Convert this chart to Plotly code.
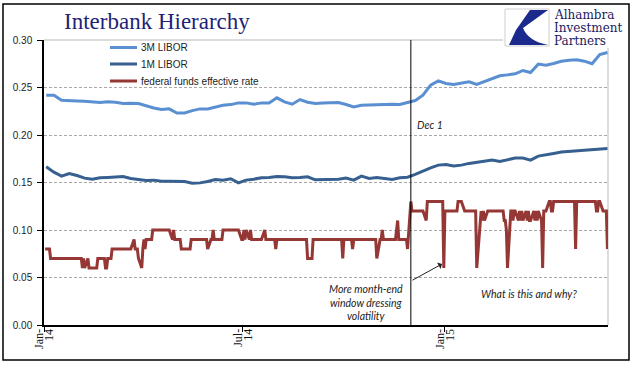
import plotly.graph_objects as go
import pandas as pd

# ---------------- data ----------------
# Weekly LIBOR readings (Fridays from 2014-01-03)
libor_start = "2014-01-03"
libor_3m = [0.2419, 0.2419, 0.2366, 0.2366, 0.2359, 0.2356, 0.2349, 0.2342, 0.2349, 0.2345,
            0.2331, 0.2335, 0.2331, 0.2306, 0.2285, 0.2268, 0.2275, 0.2232, 0.2232, 0.2257,
            0.2275, 0.2275, 0.2292, 0.2313, 0.2320, 0.2338, 0.2338, 0.2324, 0.2338, 0.2338,
            0.2391, 0.2349, 0.2324, 0.2373, 0.2345, 0.2331, 0.2338, 0.2339, 0.2342, 0.2321,
            0.2296, 0.2314, 0.2314, 0.2314, 0.2321, 0.2325, 0.2321, 0.2342, 0.2363, 0.2419,
            0.2525, 0.2570, 0.2542, 0.2532, 0.2549, 0.2560, 0.2532, 0.2560, 0.2591, 0.2623,
            0.2633, 0.2644, 0.2679, 0.2658, 0.2746, 0.2735, 0.2753, 0.2777, 0.2788, 0.2791,
            0.2777, 0.2750, 0.2847, 0.2868]
libor_1m = [0.1665, 0.1609, 0.1567, 0.1595, 0.1574, 0.1546, 0.1535, 0.1549, 0.1553, 0.1560,
            0.1563, 0.1542, 0.1528, 0.1521, 0.1525, 0.1514, 0.1514, 0.1511, 0.1511, 0.1493,
            0.1496, 0.1511, 0.1532, 0.1525, 0.1539, 0.1496, 0.1525, 0.1535, 0.1549, 0.1553,
            0.1563, 0.1560, 0.1549, 0.1553, 0.1560, 0.1528, 0.1528, 0.1528, 0.1535, 0.1546,
            0.1525, 0.1567, 0.1542, 0.1553, 0.1542, 0.1532, 0.1549, 0.1556, 0.1585, 0.1623,
            0.1655, 0.1683, 0.1690, 0.1673, 0.1683, 0.1701, 0.1715, 0.1725, 0.1736, 0.1722,
            0.1743, 0.1757, 0.1757, 0.1736, 0.1778, 0.1789, 0.1806, 0.1820, 0.1827, 0.1835,
            0.1835, 0.1842, 0.1849, 0.1859]

# Daily federal funds effective rate, one list per month (business days)
ffr_2014_01 = [0.08, 0.08, 0.08, 0.07, 0.07, 0.07, 0.07, 0.07, 0.07, 0.07, 0.07, 0.07, 0.07,
               0.07, 0.07, 0.07, 0.07, 0.07, 0.07, 0.07, 0.07, 0.07]
ffr_2014_02 = [0.07, 0.07, 0.06, 0.07, 0.06, 0.07, 0.06, 0.06, 0.06, 0.06, 0.06, 0.06, 0.07,
               0.07, 0.07, 0.07, 0.07, 0.06, 0.06, 0.07]
ffr_2014_03 = [0.07, 0.08, 0.08, 0.08, 0.08, 0.08, 0.08, 0.08, 0.08, 0.08, 0.08, 0.08, 0.08,
               0.08, 0.08, 0.09, 0.08, 0.08, 0.08, 0.07, 0.06]
ffr_2014_04 = [0.08, 0.09, 0.08, 0.09, 0.09, 0.09, 0.09, 0.10, 0.10, 0.10, 0.10, 0.10, 0.10,
               0.10, 0.10, 0.10, 0.10, 0.10, 0.10, 0.09, 0.10, 0.09]
ffr_2014_05 = [0.09, 0.09, 0.09, 0.08, 0.08, 0.08, 0.08, 0.08, 0.08, 0.08, 0.09, 0.09, 0.09,
               0.09, 0.09, 0.09, 0.09, 0.09, 0.09, 0.09, 0.09, 0.08]
ffr_2014_06 = [0.09, 0.09, 0.10, 0.09, 0.09, 0.09, 0.09, 0.09, 0.09, 0.10, 0.10, 0.10, 0.10,
               0.10, 0.10, 0.10, 0.10, 0.10, 0.10, 0.10, 0.09]
ffr_2014_07 = [0.09, 0.10, 0.09, 0.10, 0.09, 0.10, 0.09, 0.09, 0.09, 0.09, 0.09, 0.09, 0.09,
               0.09, 0.10, 0.09, 0.09, 0.09, 0.09, 0.09, 0.09, 0.09, 0.08]
ffr_2014_08 = [0.09, 0.09, 0.09, 0.09, 0.09, 0.09, 0.09, 0.09, 0.09, 0.09, 0.09, 0.09, 0.09,
               0.09, 0.09, 0.09, 0.09, 0.09, 0.09, 0.09, 0.07]
ffr_2014_09 = [0.07, 0.07, 0.09, 0.09, 0.09, 0.09, 0.09, 0.09, 0.09, 0.09, 0.09, 0.09, 0.09,
               0.09, 0.09, 0.09, 0.09, 0.09, 0.09, 0.09, 0.09, 0.07]
ffr_2014_10 = [0.09, 0.09, 0.09, 0.09, 0.09, 0.09, 0.08, 0.09, 0.09, 0.09, 0.09, 0.09, 0.09,
               0.09, 0.09, 0.09, 0.09, 0.09, 0.09, 0.09, 0.09, 0.09, 0.07]
ffr_2014_11 = [0.09, 0.09, 0.10, 0.09, 0.09, 0.09, 0.09, 0.09, 0.09, 0.09, 0.09, 0.10, 0.11,
               0.09, 0.09, 0.09, 0.09, 0.09, 0.09, 0.08]
ffr_2014_12 = [0.13, 0.12, 0.12, 0.12, 0.12, 0.12, 0.12, 0.12, 0.12, 0.12, 0.11, 0.13, 0.13,
               0.13, 0.13, 0.13, 0.13, 0.13, 0.13, 0.13, 0.13, 0.13, 0.06]
ffr_2015_01 = [0.12, 0.12, 0.12, 0.12, 0.12, 0.12, 0.12, 0.12, 0.13, 0.13, 0.13, 0.13, 0.12,
               0.12, 0.12, 0.12, 0.12, 0.12, 0.12, 0.12, 0.12, 0.06]
ffr_2015_02 = [0.10, 0.12, 0.11, 0.12, 0.11, 0.12, 0.12, 0.12, 0.12, 0.12, 0.12, 0.12, 0.12,
               0.12, 0.12, 0.12, 0.11, 0.11, 0.10, 0.06]
ffr_2015_03 = [0.12, 0.12, 0.11, 0.12, 0.12, 0.11, 0.12, 0.11, 0.12, 0.11, 0.12, 0.11, 0.12,
               0.11, 0.11, 0.12, 0.11, 0.12, 0.11, 0.12, 0.11, 0.06]
ffr_2015_04 = [0.12, 0.12, 0.12, 0.13, 0.13, 0.12, 0.12, 0.13, 0.13, 0.13, 0.13, 0.13, 0.13,
               0.13, 0.13, 0.13, 0.13, 0.13, 0.13, 0.13, 0.13, 0.08]
ffr_2015_05 = [0.13, 0.13, 0.13, 0.13, 0.13, 0.13, 0.13, 0.13, 0.13, 0.13, 0.13, 0.13, 0.12,
               0.12, 0.13, 0.13, 0.12, 0.12, 0.12, 0.12, 0.08]

ffr_months = [
    ("2014-01-02", "2014-01-31", ffr_2014_01), ("2014-02-01", "2014-02-28", ffr_2014_02),
    ("2014-03-01", "2014-03-31", ffr_2014_03), ("2014-04-01", "2014-04-30", ffr_2014_04),
    ("2014-05-01", "2014-05-31", ffr_2014_05), ("2014-06-01", "2014-06-30", ffr_2014_06),
    ("2014-07-01", "2014-07-31", ffr_2014_07), ("2014-08-01", "2014-08-31", ffr_2014_08),
    ("2014-09-01", "2014-09-30", ffr_2014_09), ("2014-10-01", "2014-10-31", ffr_2014_10),
    ("2014-11-01", "2014-11-30", ffr_2014_11), ("2014-12-01", "2014-12-31", ffr_2014_12),
    ("2015-01-01", "2015-01-31", ffr_2015_01), ("2015-02-01", "2015-02-28", ffr_2015_02),
    ("2015-03-01", "2015-03-31", ffr_2015_03), ("2015-04-01", "2015-04-30", ffr_2015_04),
    ("2015-05-01", "2015-05-31", ffr_2015_05),
]

series_names = ["3M LIBOR", "1M LIBOR", "federal funds effective rate"]
series_colors = ["#5a8fd2", "#36608f", "#953735"]
tick_vals = ["2014-01-01", "2014-07-01", "2015-01-01"]
tick_month = ["Jan-", "Jul-", "Jan-"]
tick_year = ["14", "14", "15"]
y_ticks = [0.00, 0.05, 0.10, 0.15, 0.20, 0.25, 0.30]
marker_date = "2014-12-01"

# ---------------- build series ----------------
libor_dates = pd.date_range(libor_start, periods=len(libor_3m), freq="7D")
ffr_dates, ffr_vals = [], []
for start, end, vals in ffr_months:
    for d, v in zip(pd.bdate_range(start, end), vals):
        ffr_dates.append(d)
        ffr_vals.append(v)

# ---------------- layout helpers ----------------
W, H = 641, 375
ML, MR, MT, MB = 44, 33, 40, 50
PW, PH = W - ML - MR, H - MT - MB


def px(x):
    return (x - ML) / PW


def py(y):
    return (H - MB - y) / PH


fig = go.Figure()
for xs, ys, nm, col in [(libor_dates, libor_3m, series_names[0], series_colors[0]),
                        (libor_dates, libor_1m, series_names[1], series_colors[1]),
                        (ffr_dates, ffr_vals, series_names[2], series_colors[2])]:
    fig.add_trace(go.Scatter(x=xs, y=ys, name=nm, mode="lines", showlegend=False,
                             line=dict(color=col, width=3)))

fig.update_layout(
    width=W, height=H,
    margin=dict(l=ML, r=MR, t=MT, b=MB, pad=0),
    paper_bgcolor="white", plot_bgcolor="white",
    showlegend=False,
    xaxis=dict(type="date", range=["2014-01-01", "2015-05-29 12:00"],
               tickvals=tick_vals, showticklabels=False,
               ticks="outside", ticklen=5, tickcolor="#000",
               showgrid=False, zeroline=False, showline=True, linecolor="#000", linewidth=1.5),
    yaxis=dict(range=[0, 0.30], tickvals=y_ticks, tickformat=".2f",
               tickfont=dict(family="Liberation Sans, Arial", size=10, color="#222"),
               ticks="outside", ticklen=5, tickcolor="#000", ticklabelstandoff=3,
               showgrid=True, gridcolor="#a8a8a8", gridwidth=1, griddash="3px,2px",
               zeroline=False, showline=True, linecolor="#000", linewidth=1.5),
)

shapes = [
    # plot-area border (top + right), light gray
    dict(type="line", xref="paper", yref="paper", x0=0, x1=1, y0=1, y1=1,
         line=dict(color="#b8b8b8", width=1), layer="below"),
    dict(type="line", xref="paper", yref="paper", x0=1, x1=1, y0=0, y1=1,
         line=dict(color="#b8b8b8", width=1), layer="below"),
    # Dec 1 marker
    dict(type="line", xref="x", yref="y", x0=marker_date, x1=marker_date, y0=0, y1=0.30,
         line=dict(color="#000", width=1)),
    # logo white background
    dict(type="rect", xref="paper", yref="paper", x0=px(503), x1=px(627), y0=py(48), y1=py(6),
         fillcolor="white", line=dict(width=0)),
    dict(type="rect", xref="paper", yref="paper", x0=px(505), x1=px(549), y0=py(46), y1=py(9),
         fillcolor="white", line=dict(color="#cfcfcf", width=1)),
    # outer chart border
    dict(type="rect", xref="paper", yref="paper", x0=px(3), x1=px(629), y0=py(360), y1=py(4),
         line=dict(color="#000", width=1.5)),
]

# logo mark (swoosh)
path = "M {},{} L {},{} L {},{} Q {},{} {},{} L {},{} L {},{} Z".format(
    px(530), py(10), px(548), py(10), px(523), py(28),
    px(528), py(41), px(548), py(45), px(509), py(45), px(516), py(30))
shapes.append(dict(type="path", xref="paper", yref="paper", path=path,
                   fillcolor="#1b2a8c", line=dict(width=0)))

# legend (drawn manually to match the compact row spacing)
legend_rows = [47.5, 64, 81]
for row_y, col in zip(legend_rows, series_colors):
    shapes.append(dict(type="line", xref="paper", yref="paper", x0=px(110), x1=px(137),
                       y0=py(row_y), y1=py(row_y), line=dict(color=col, width=3)))
fig.update_layout(shapes=shapes)

ann_font = dict(family="Lato, Liberation Sans", size=10.5, color="#222")
logo_font = dict(family="DejaVu Serif", size=12, color="#1a1a60")
annotations = [
    dict(text="Interbank Hierarchy", x=px(157), y=py(21), xref="paper", yref="paper",
         showarrow=False, xanchor="center", yanchor="middle",
         font=dict(family="Liberation Serif, Times New Roman", size=23, color="#1f1f78")),
    dict(text="Alhambra", x=px(552), y=py(15), xref="paper", yref="paper", showarrow=False,
         xanchor="left", yanchor="middle", font=logo_font),
    dict(text="Investment", x=px(552), y=py(28), xref="paper", yref="paper", showarrow=False,
         xanchor="left", yanchor="middle", font=logo_font),
    dict(text="Partners", x=px(552), y=py(41), xref="paper", yref="paper", showarrow=False,
         xanchor="left", yanchor="middle", font=logo_font),
    dict(text="<i>Dec 1</i>", x=px(415), y=py(125), xref="paper", yref="paper",
         showarrow=False, xanchor="left", yanchor="middle", font=ann_font),
    dict(text="<i>More month-end<br>window dressing<br>volatility</i>", x=px(366), y=py(302),
         xref="paper", yref="paper", showarrow=False, xanchor="center", yanchor="middle",
         align="center", font=ann_font),
    dict(text="<i>What is this and why?</i>", x=px(529), y=py(294), xref="paper", yref="paper",
         showarrow=False, xanchor="center", yanchor="middle", font=ann_font),
    dict(text="", x=px(442), y=py(264), xref="paper", yref="paper", showarrow=True,
         ax=-31, ay=17, arrowhead=1, arrowsize=1.2, arrowwidth=1, arrowcolor="#222"),
]
for row_y, nm in zip(legend_rows, series_names):
    annotations.append(dict(text=nm, x=px(139), y=py(row_y), xref="paper", yref="paper",
                            showarrow=False, xanchor="left", yanchor="middle",
                            font=dict(family="Liberation Sans, Arial", size=10, color="#222")))
tick_font = dict(family="Liberation Serif, Times New Roman", size=12, color="#111")
for tv, tm, ty in zip(tick_vals, tick_month, tick_year):
    annotations.append(dict(text=tm, x=tv, y=py(327), xref="x", yref="paper", xshift=-5,
                            showarrow=False, textangle=-90, xanchor="center", yanchor="top",
                            font=tick_font))
    annotations.append(dict(text=ty, x=tv, y=py(327), xref="x", yref="paper", xshift=5,
                            showarrow=False, textangle=-90, xanchor="center", yanchor="top",
                            font=tick_font))
fig.update_layout(annotations=annotations)

fig.write_html("out.html", config={"displayModeBar": False},
               post_script="document.body.style.margin='0';")
